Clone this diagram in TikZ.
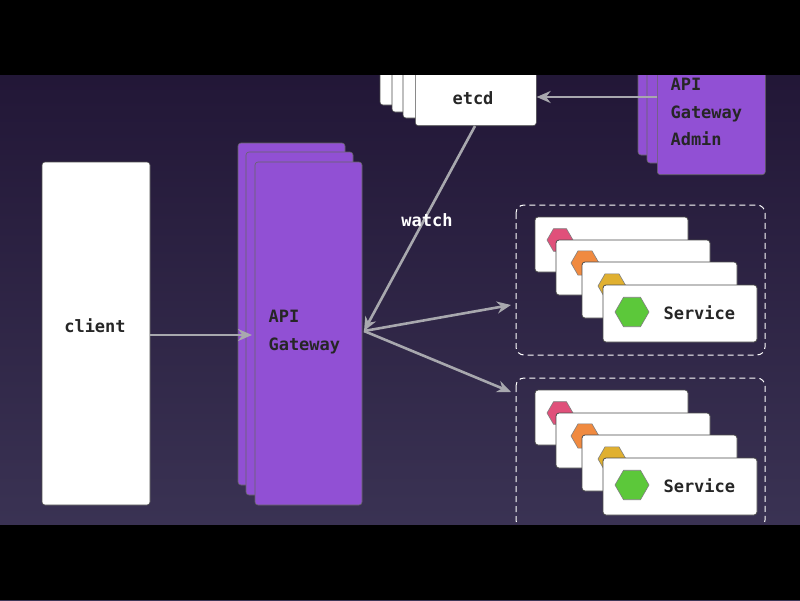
\documentclass[tikz,border=0pt]{standalone}
\usepackage{fontspec}
\setmonofont{DejaVu Sans Mono}
\usetikzlibrary{arrows.meta}
\definecolor{gp}{HTML}{9150D4}
\definecolor{bgt}{HTML}{1E1232}
\definecolor{bgb}{HTML}{3E3758}
\definecolor{ar}{HTML}{A8A8AE}
\definecolor{hpink}{HTML}{E0507A}
\definecolor{horange}{HTML}{F08A40}
\definecolor{hyellow}{HTML}{E0B030}
\definecolor{hgreen}{HTML}{5CC83A}
\tikzset{
 wbox/.style={fill=white,draw=black!70,line width=0.6pt,rounded corners=3pt},
 pbox/.style={fill=gp,draw=black!60,line width=0.6pt,rounded corners=3pt},
 lbl/.style={font=\ttfamily\bfseries\fontsize{17}{27.5}\selectfont,text=black!85,align=left},
 arr/.style={draw=ar,line width=2.6pt,-{Stealth[length=14pt,width=12pt]}},
 grp/.style={draw=white!75,line width=1pt,dash pattern=on 6pt off 4pt,rounded corners=8pt},
 card/.style={fill=white,draw=black!70,line width=0.8pt,rounded corners=3pt},
}
\newcommand{\hexa}[4]{\fill[#4,draw=black!50,line width=0.6pt] (#1+#3,#2) -- (#1+#3/2,#2+0.866*#3) -- (#1-#3/2,#2+0.866*#3) -- (#1-#3,#2) -- (#1-#3/2,#2-0.866*#3) -- (#1+#3/2,#2-0.866*#3) -- cycle;}
\newcommand{\svcgroup}[1]{%
 \begin{scope}[yshift=-#1pt]
 \draw[grp] (516,205) rectangle (765,355);
 \draw[card] (535,217) rectangle (688,272);
 \hexa{560}{240}{13}{hpink}
 \draw[card] (556,240) rectangle (710,295);
 \hexa{585}{263}{14}{horange}
 \draw[card] (582,262) rectangle (737,318);
 \hexa{612}{286}{14}{hyellow}
 \draw[card] (603,285) rectangle (757,342);
 \hexa{632}{312}{17}{hgreen}
 \node[lbl,anchor=west] at (660,313) {Service};
 \end{scope}}
\begin{document}
\begin{tikzpicture}[x=1pt,y=-1pt]
\useasboundingbox (0,0) rectangle (800,600);
\shade[top color=bgt,bottom color=bgb] (0,0) rectangle (800,600);
% client
\node[wbox,minimum width=108pt,minimum height=343pt] (client) at (96,333.5) {};
\node[lbl] at (95,326) {client};
% gateway stack
\draw[pbox] (238,143) rectangle (345,485);
\draw[pbox] (246,152) rectangle (353,495);
\node[pbox,minimum width=107pt,minimum height=343pt] (gw) at (308.5,333.5) {};
\node[lbl,anchor=west] at (265,332) {API\\Gateway};
\coordinate (gwr) at (364,331);
% etcd stack
\draw[wbox] (380,40) rectangle (500,105);
\draw[wbox] (392,40) rectangle (512,112);
\draw[wbox] (403,40) rectangle (524,118);
\node[wbox,minimum width=121pt,minimum height=90pt,anchor=south west] (etcd) at (415,126) {};
\node[lbl] at (473,98) {etcd};
% admin stack
\draw[pbox] (638,40) rectangle (740,155);
\draw[pbox] (647,40) rectangle (750,163);
\node[pbox,minimum width=108pt,minimum height=135pt,anchor=south west] (adm) at (657,175) {};
\node[lbl,anchor=west] at (667,112) {API\\Gateway\\Admin};
% groups
\svcgroup{0}
\svcgroup{173}
\coordinate (g1) at (511,305);
\coordinate (g2) at (511,392);
% connectors
\draw[arr] (adm.west |- 0,97) -- (etcd.east |- 0,97);
\draw[arr] (475,126) -- (gwr);
\node[lbl,text=white!92] (w) at (427,220) {watch};
\draw[arr] (client.east |- 0,335) -- (252,335);
\draw[arr] (gwr) -- (g1);
\draw[arr] (gwr) -- (g2);
% black bars
\fill[black] (0,0) rectangle (800,75);
\fill[black] (0,525) rectangle (800,600);
\end{tikzpicture}
\end{document}
